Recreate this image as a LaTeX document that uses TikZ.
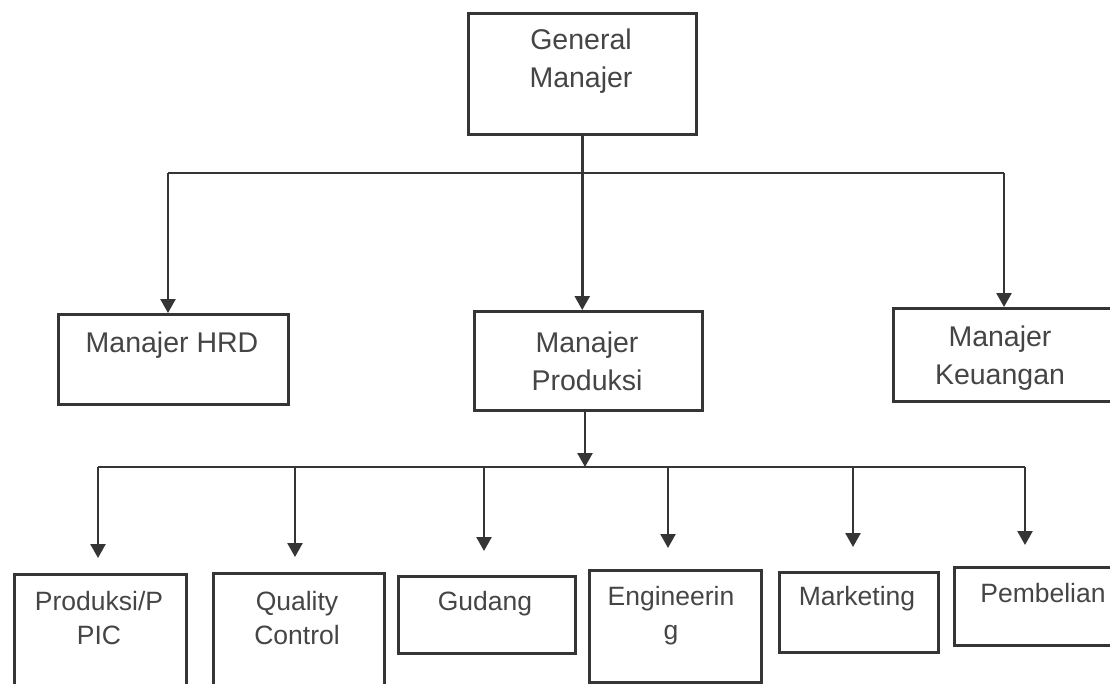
\documentclass[tikz,border=0pt]{standalone}
\usepackage{fontspec}
\setmainfont{Liberation Sans}
\usetikzlibrary{arrows.meta,calc}
\definecolor{ink}{HTML}{353535}
\definecolor{txt}{HTML}{454545}
\begin{document}
\begin{tikzpicture}[x=1pt,y=-1pt,
  box/.style={draw=ink,line width=2.5pt,rectangle,inner sep=0pt,anchor=north west},
  bigtxt/.style={text=txt,align=center,inner sep=0pt,font=\fontsize{28.5}{38}\selectfont},
  smalltxt/.style={text=txt,align=center,inner sep=0pt,font=\fontsize{26.5}{34}\selectfont},
  wire/.style={draw=ink,line width=2.5pt},
  arr/.style={wire,-{Triangle[width=15pt,length=14pt]}}]
\clip (0,0) rectangle (1110,683);
\fill[white] (0,0) rectangle (1110,683);
% boxes
\node[box,minimum width=228pt,minimum height=121pt] (gm) at (467,12) {};
\node[box,minimum width=230pt,minimum height=90pt] (hrd) at (57,313) {};
\node[box,minimum width=228pt,minimum height=99pt] (prod) at (473,310) {};
\node[box,minimum width=240pt,minimum height=93pt] (keu) at (892,307) {};
\node[box,minimum width=172pt,minimum height=130pt] (ppic) at (13,573) {};
\node[box,minimum width=171pt,minimum height=130pt] (qc) at (212,572) {};
\node[box,minimum width=177pt,minimum height=77pt] (gud) at (397,575) {};
\node[box,minimum width=172pt,minimum height=112pt] (eng) at (588,569) {};
\node[box,minimum width=159pt,minimum height=80pt] (mkt) at (778,571) {};
\node[box,minimum width=170pt,minimum height=78pt] (pemb) at (953,566) {};
% texts
\node[bigtxt] (gmt) at (581,61) {General\\Manajer};
\node[bigtxt] (hrdt) at (172,345) {Manajer HRD};
\node[bigtxt] (prodt) at (587,361) {Manajer\\Produksi};
\node[bigtxt] (keut) at (1000,358) {Manajer\\Keuangan};
\node[smalltxt] (ppict) at (99,618) {Produksi/P\\PIC};
\node[smalltxt] (qct) at (297,618) {Quality\\Control};
\node[smalltxt] (gudt) at (485,604) {Gudang};
\node[smalltxt] (engt) at (671,616) {Engineerin\\g};
\node[smalltxt] (mktt) at (857,599) {Marketing};
\node[smalltxt] (pembt) at (1043,593) {Pembelian};
% top connectors
\coordinate (tl) at (168,173);
\coordinate (tr) at (1004,173);
\draw[wire] (tl) -- (tr);
\draw[arr] (gm.south) -- (prod.north -| gm.south);
\draw[arr] (tl) -- (tl |- hrd.north);
\draw[arr] (tr) -- (tr |- keu.north);
% bottom connectors
\coordinate (j2) at (585,467);
\coordinate (b1) at (98,467);
\coordinate (b2) at (295,467);
\coordinate (b3) at (484,467);
\coordinate (b4) at (668,467);
\coordinate (b5) at (853,467);
\coordinate (b6) at (1025,467);
\draw[wire] (b1) -- (b6);
\draw[arr] (prod.south -| j2) -- (j2);
\draw[arr,shorten >=15pt] (b1) -- (b1 |- ppic.north);
\draw[arr,shorten >=15pt] (b2) -- (b2 |- qc.north);
\draw[arr,shorten >=24pt] (b3) -- (b3 |- gud.north);
\draw[arr,shorten >=21pt] (b4) -- (b4 |- eng.north);
\draw[arr,shorten >=24pt] (b5) -- (b5 |- mkt.north);
\draw[arr,shorten >=21pt] (b6) -- (b6 |- pemb.north);
\end{tikzpicture}
\end{document}
